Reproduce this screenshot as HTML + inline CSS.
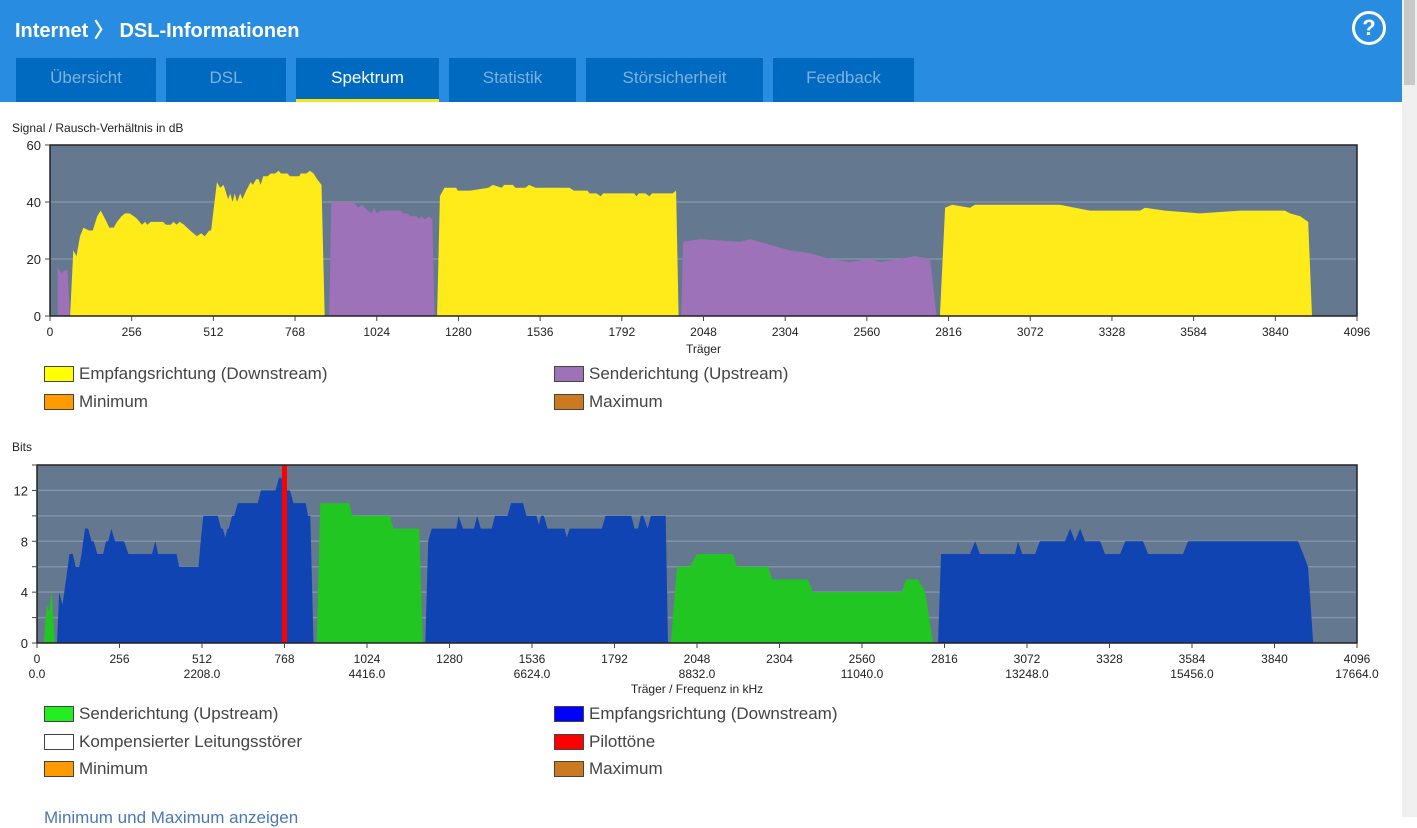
<!DOCTYPE html>
<html><head><meta charset="utf-8"><style>
body{margin:0;width:1417px;height:817px;overflow:hidden;background:#fff;font-family:"Liberation Sans",sans-serif;position:relative}
#hdr{position:absolute;left:0;top:0;width:1402px;height:102px;background:#288de0}
#title{position:absolute;left:15px;top:17px;color:#fff;font-size:20px;font-weight:bold}
.tab{position:absolute;top:58px;height:44px;background:#006ac0;color:#7fb0de;font-size:17px;text-align:center;line-height:40px;box-sizing:border-box}
.tab.act{color:#fff;border-bottom:3px solid #f5e616}
#help{position:absolute;left:1352px;top:11px;width:28px;height:28px;border:3px solid #fff;border-radius:50%;color:#fff;font-weight:bold;font-size:22px;text-align:center;line-height:28px}
#scroll{position:absolute;left:1402px;top:0;width:15px;height:817px;background:#f0f0f0}
#scroll div{position:absolute;left:2px;top:0;width:11px;height:85px;background:#c8c8c8}
.lg{position:absolute;font-size:17px;color:#444}
.lg span{position:absolute;left:-35px;top:2px;width:28px;height:14px;border:1px solid #444}
#link{position:absolute;left:44px;top:808px;color:#4a78b5;font-size:17px}
svg{position:absolute;left:0;top:0}
</style></head><body>
<div id="hdr">
<div id="title" style="top:14px;font-weight:600">Internet 〉 DSL-Informationen</div>
<div class="tab" style="left:16px;width:140px">Übersicht</div>
<div class="tab" style="left:166px;width:120px">DSL</div>
<div class="tab act" style="left:296px;width:143px">Spektrum</div>
<div class="tab" style="left:449px;width:127px">Statistik</div>
<div class="tab" style="left:586px;width:177px">Störsicherheit</div>
<div class="tab" style="left:773px;width:141px">Feedback</div>
<div id="help">?</div>
</div>
<div id="scroll"><div></div></div>
<svg id="chart" width="1402" height="817"></svg>
<div class="lg" style="left:79px;top:364px"><span style="background:#ffff00"></span>Empfangsrichtung (Downstream)</div>
<div class="lg" style="left:589px;top:364px"><span style="background:#9d72b9"></span>Senderichtung (Upstream)</div>
<div class="lg" style="left:79px;top:392px"><span style="background:#ff9a00"></span>Minimum</div>
<div class="lg" style="left:589px;top:392px"><span style="background:#cc7a22"></span>Maximum</div>
<div class="lg" style="left:79px;top:704px"><span style="background:#22ee22"></span>Senderichtung (Upstream)</div>
<div class="lg" style="left:589px;top:704px"><span style="background:#0000ff"></span>Empfangsrichtung (Downstream)</div>
<div class="lg" style="left:79px;top:732px"><span style="background:#fff"></span>Kompensierter Leitungsstörer</div>
<div class="lg" style="left:589px;top:732px"><span style="background:#ff0000"></span>Pilottöne</div>
<div class="lg" style="left:79px;top:759px"><span style="background:#ff9a00"></span>Minimum</div>
<div class="lg" style="left:589px;top:759px"><span style="background:#cc7a22"></span>Maximum</div>
<div id="link">Minimum und Maximum anzeigen</div>
<script>
const snrTicks=[0,256,512,768,1024,1280,1536,1792,2048,2304,2560,2816,3072,3328,3584,3840,4096];
const snrYTicks=[0,20,40,60];
const bitsYTicks=[0,4,8,12];
const snrUp=[
[[24,0],[24,17],[35,15],[45,16],[55,16],[62,0]],
[[875,0],[882,40],[952,40],[966,38],[977,39],[987,38],[997,37],[1008,36],[1015,38],[1025,36],[1036,37],[1100,37],[1107,36],[1121,36],[1128,35],[1149,35],[1156,34],[1163,35],[1174,34],[1188,35],[1198,34],[1205,0]],
[[1978,0],[1984,26],[2037,27],[2162,26],[2194,27],[2256,25],[2319,23],[2382,22],[2444,20],[2507,19],[2570,20],[2601,19],[2664,20],[2711,21],[2758,20],[2778,0]]];
const snrDown=[
[[63,0],[73,23],[83,21],[94,28],[105,31],[122,30],[134,30],[148,35],[159,37],[173,34],[186,31],[200,31],[210,33],[224,35],[235,36],[249,36],[263,35],[274,34],[288,32],[298,33],[305,32],[316,33],[354,33],[364,32],[378,32],[387,33],[397,32],[406,33],[420,32],[439,30],[460,28],[474,29],[485,28],[499,30],[505,30],[523,47],[533,45],[544,46],[558,41],[565,43],[572,40],[579,43],[586,40],[596,43],[603,41],[615,44],[629,47],[636,46],[646,48],[654,48],[660,46],[668,49],[682,49],[692,50],[706,50],[716,51],[724,50],[744,50],[752,49],[781,49],[786,50],[804,50],[814,51],[826,50],[837,48],[851,46],[861,0]],
[[1213,0],[1222,42],[1236,45],[1273,45],[1278,44],[1317,44],[1374,45],[1388,46],[1416,45],[1423,46],[1451,46],[1458,45],[1490,45],[1501,46],[1522,45],[1628,45],[1642,44],[1684,44],[1691,43],[1712,43],[1726,42],[1733,43],[1831,43],[1838,42],[1845,43],[1866,43],[1878,42],[1887,43],[1951,43],[1962,44],[1970,0]],
[[2789,0],[2805,38],[2827,39],[2883,38],[2899,39],[3165,39],[3212,38],[3259,37],[3416,37],[3432,38],[3494,37],[3604,36],[3729,37],[3870,37],[3886,36],[3918,35],[3943,33],[3955,0]]];
const bitsUp=[
[[21,0],[30,3],[37,2.5],[46,4],[55,0]],
[[868,0],[879,11],[969,11],[978,10],[1095,10],[1106,9],[1186,9],[1197,0]],
[[1967,0],[1986,6],[2026,6],[2048,7],[2160,7],[2172,6],[2268,6],[2281,5],[2392,5],[2408,4],[2684,4],[2697,5],[2734,5],[2756,4],[2780,0]]];
const bitsDown=[
[[62,0],[69,4],[79,3],[90,5],[101,7],[111,7],[120,6],[131,6],[138,7],[149,9],[159,9],[169,8],[176,8],[187,7],[205,7],[214,8],[221,8],[231,9],[242,8],[270,8],[284,7],[357,7],[367,8],[376,7],[433,7],[441,6],[501,6],[508,8],[516,10],[561,10],[571,9],[577,9],[584,8.3],[591,9],[595,9],[605,10],[612,10],[623,11],[685,11],[695,12],[740,12],[751,13],[758,13],[775,12],[785,12],[796,11],[834,11],[841,10],[848,10],[858,0]],
[[1205,0],[1214,8],[1225,9],[1301,9],[1308,10],[1322,9],[1356,9],[1366,10],[1377,9],[1411,9],[1421,10],[1460,10],[1471,11],[1508,11],[1519,10],[1550,10],[1557,9.3],[1564,10],[1573,10],[1584,9],[1637,9],[1644,8.3],[1653,9],[1753,9],[1764,10],[1844,10],[1854,9],[1865,9],[1874,10],[1881,10],[1895,9],[1905,10],[1951,10],[1958,0]],
[[2796,0],[2805,7],[2895,7],[2911,8],[2926,7],[3035,7],[3044,8],[3057,7],[3097,7],[3112,8],[3190,8],[3206,9],[3221,8],[3237,9],[3252,8],[3299,8],[3314,7],[3361,7],[3377,8],[3432,8],[3448,7],[3556,7],[3572,8],[3913,8],[3929,7],[3944,6],[3960,0]]];
const pilotTones=[768];
const freqPerCarrier=4.3125;

const svg=document.getElementById('chart');
const NS='http://www.w3.org/2000/svg';
function mk(tag,attrs,parent){const e=document.createElementNS(NS,tag);for(const k in attrs)e.setAttribute(k,attrs[k]);(parent||svg).appendChild(e);return e;}
function txt(x,y,s,anchor,size){const t=mk('text',{x:x,y:y,'text-anchor':anchor,'font-size':size||12,fill:'#222','font-family':'Liberation Sans, sans-serif'});t.textContent=s;return t;}

function drawChart(o){
  const xs=c=>o.x0+(c/4096)*(o.x1-o.x0);
  const ys=v=>o.y1-(v/o.ymax)*(o.y1-o.y0);
  const bg=mk('rect',{x:o.x0,y:o.y0,width:o.x1-o.x0,height:o.y1-o.y0,fill:'#64798f'});
  
  
  for(let v=o.gstep;v<o.ymax;v+=o.gstep){mk('line',{x1:o.x0,x2:o.x1,y1:ys(v),y2:ys(v),stroke:'#8193a6','stroke-width':1.5});}
  o.series.forEach(s=>{s.data.forEach((seg,i)=>{
    const d='M'+seg.map(p=>xs(p[0]).toFixed(1)+','+ys(p[1]).toFixed(1)).join('L')+'Z';
    const p=mk('path',{d:d,fill:s.color});
    
    
  });});
  if(o.pilots)o.pilots.forEach(c=>{
    const l=mk('rect',{x:xs(c)-2.5,y:o.y0,width:5,height:o.y1-o.y0,fill:'#ff0000'});
    
    
  });
  mk('rect',{x:o.x0,y:o.y0,width:o.x1-o.x0,height:o.y1-o.y0,fill:'none',stroke:'#222','stroke-width':1.5});
  mk('line',{x1:o.x0-5,x2:o.x0,y1:o.y1,y2:o.y1,stroke:'#444'});
  for(let v=0;v<=o.ymax;v+=o.gstep)mk('line',{x1:o.x0-5,x2:o.x0,y1:ys(v),y2:ys(v),stroke:'#444'});
  o.yticks.forEach(v=>{const t=txt(o.x0-9,ys(v)+5,String(v),'end',13);});
  snrTicks.forEach((c,i)=>{
    mk('line',{x1:xs(c),x2:xs(c),y1:o.y1,y2:o.y1+5,stroke:'#444'});
    const t=txt(xs(c),o.y1+20,String(c),'middle',12);
    if(o.freq&&i%2==0){const f=txt(xs(c),o.y1+35,(c*freqPerCarrier).toFixed(1),'middle',12);}
  });
  const xt=txt((o.x0+o.x1)/2,o.xtY,o.xtitle,'middle',12);
  const yt=txt(12,o.ytY,o.ytitle,'start',12);
}
drawChart({name:'snr',x0:50,x1:1357,y0:145,y1:316,ymax:60,gstep:20,yticks:snrYTicks,
  series:[{key:'upstream',color:'#9d72b9',data:snrUp},{key:'downstream',color:'#ffea1a',data:snrDown}],
  xtitle:'Träger',xtY:353,ytitle:'Signal / Rausch-Verhältnis in dB',ytY:132});
drawChart({name:'bits',x0:37,x1:1357,y0:465,y1:643,ymax:14,gstep:2,yticks:bitsYTicks,freq:true,pilots:pilotTones,
  series:[{key:'upstream',color:'#22c622',data:bitsUp},{key:'downstream',color:'#1144b3',data:bitsDown}],
  xtitle:'Träger / Frequenz in kHz',xtY:693,ytitle:'Bits',ytY:451});
</script>
</body></html>
